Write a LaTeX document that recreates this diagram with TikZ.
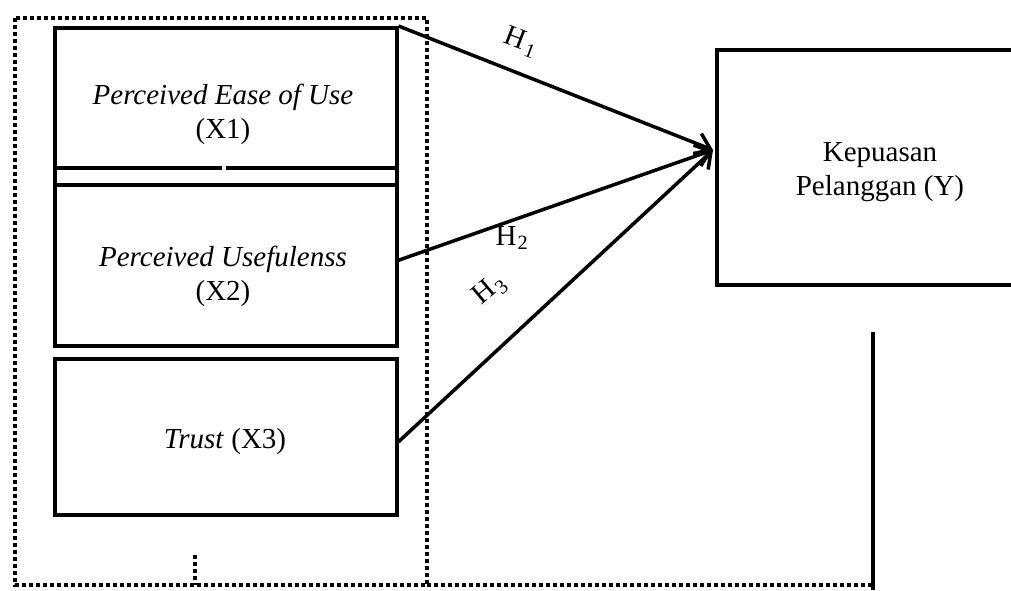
\documentclass[tikz,border=0pt]{standalone}
\usepackage{fontspec}
\setmainfont{Liberation Serif}
\usetikzlibrary{arrows.meta}
\begin{document}
\begin{tikzpicture}[x=1pt,y=-1pt,
  box/.style={draw, line width=3.5pt, rectangle, inner sep=0pt, anchor=north west},
  lbl/.style={font=\fontsize{29}{34}\selectfont, align=center, inner sep=0pt},
  hyp/.style={font=\fontsize{29}{34}\selectfont, inner sep=0pt},
  arr/.style={line width=3.5pt, -{Straight Barb[length=14pt,width=22pt,line width=3.5pt]}},
  dots/.style={line width=4pt, dash pattern=on 4pt off 3pt},
  solid line/.style={line width=4pt}]
\fill[white] (0,0) rectangle (1011,590);
\useasboundingbox (0,0) rectangle (1011,590);
% dotted frame
\draw[dots] (15,18) rectangle (427,585);
\draw[dots] (427,585) -- (873,585);
\draw[dots] (195,555) -- (195,585);
% boxes
\node[box, minimum width=342pt, minimum height=157pt] (x1) at (53,26) {};
\node[box, minimum width=342pt, minimum height=161pt] (x2) at (53,183) {};
\node[box, minimum width=342pt, minimum height=156pt] (x3) at (53,357) {};
\node[box, minimum width=320pt, minimum height=235pt] (y) at (715,48) {};
\draw[line width=4.5pt] (x1.west |- 0,168) -- (222,168);
\draw[line width=4.5pt] (226,168) -- (x1.east |- 0,168);
% texts
\node[lbl] (t1) at (223,114) {\itshape Perceived Ease of Use\\(X1)};
\node[lbl] (t2) at (223,276) {\itshape Perceived Usefulenss\\(X2)};
\node[lbl] (t3) at (225,442) {\textit{Trust} (X3)};
\node[lbl] (ty) at (880,172) {Kepuasan\\Pelanggan (Y)};
% vertical line
\draw[solid line] (873,332) -- (873,590);
% arrows
\coordinate (tgt) at (713,150);
\draw[arr] (x1.north east) -- (tgt);
\draw[arr] (x2.east) ++(0,-5) coordinate (s2) (s2) -- (tgt);
\draw[arr] (x3.east) ++(0,5) coordinate (s3) (s3) -- (tgt);
\node[hyp, rotate=-21] (h1) at (521,42) {H\kern2.5pt\textsubscript{1}};
\node[hyp] (h2) at (512,238) {H\kern1pt\textsubscript{2}};
\node[hyp, rotate=40] (h3) at (490,290) {H\kern1pt\textsubscript{3}};
\end{tikzpicture}
\end{document}
